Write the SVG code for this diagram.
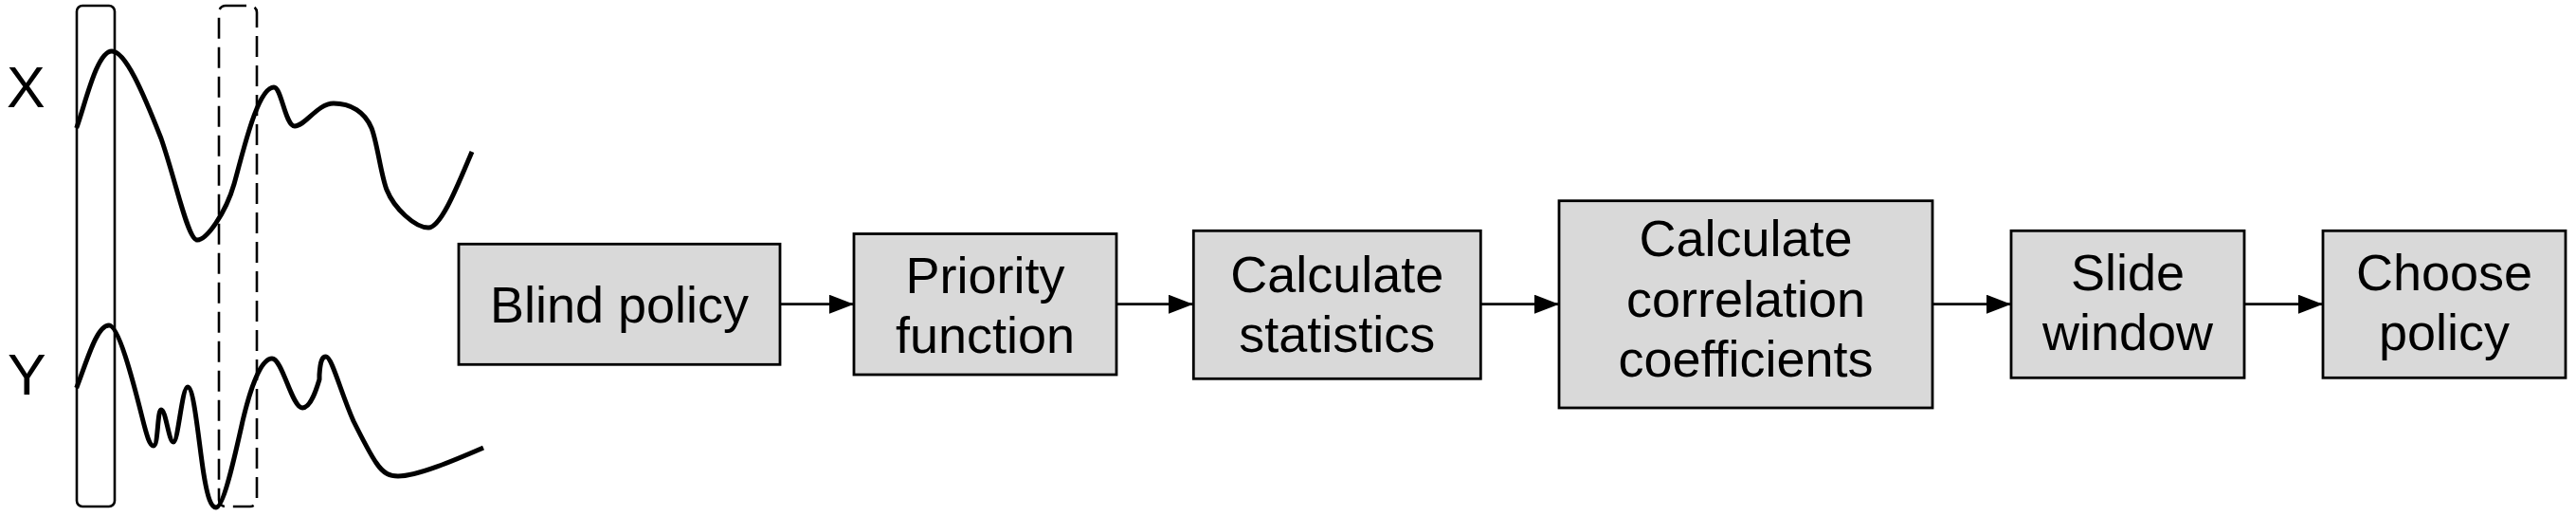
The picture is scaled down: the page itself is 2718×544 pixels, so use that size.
<svg xmlns="http://www.w3.org/2000/svg" width="2718" height="544" viewBox="0 0 2718 544">
<defs>
<style>
.box{fill:#d9d9d9;stroke:#000;stroke-width:2.8}
.lbl{font-family:"Liberation Sans",Arial,sans-serif;font-size:54px;fill:#000;text-anchor:middle}
.axis{font-family:"Liberation Sans",Arial,sans-serif;font-size:61px;fill:#000}
.wave{fill:none;stroke:#000;stroke-width:5;stroke-linejoin:round;stroke-linecap:butt}
.win{fill:none;stroke:#000;stroke-width:2.6}
.edge{stroke:#000;stroke-width:2.8;fill:none;marker-end:url(#ah)}
</style>
<marker id="ah" viewBox="0 0 26 20" refX="26" refY="10" markerWidth="26" markerHeight="20" markerUnits="userSpaceOnUse" orient="auto">
<path d="M0,0 L26,10 L0,20 Z" fill="#000"/>
</marker>
</defs>
<rect width="2718" height="544" fill="#fff"/>

<g id="signals">
<text class="axis" x="7" y="113">X</text>
<text class="axis" x="8" y="416">Y</text>
<rect id="window-current" class="win" x="81" y="6" width="40" height="528" rx="6"/>
<rect id="window-next" class="win" x="231" y="6" width="40" height="528" rx="7" stroke-dasharray="22 9"/>
<path id="signal-x" class="wave" d="M80.7,135 C90,110 102,54 118,54 C132,54 150,95 170,146 C186,192 198,253 208,253 C218,253 238,225 247,194 C257,158 272,92 289,92 C297,92 301,133 311,133 C322,133 335,109 352,109 C370,109 385,118 392,135 C398,150 402,185 408,200 C416,220 438,240 452,240 C466,240 485,190 498,160"/>
<path id="signal-y" class="wave" d="M80.7,409 C92,380 102,343 115,343 C125,343 140,400 150,440 C155,460 158,470 162,470 C167,470 166,432 170,432 C175,432 178,466 183,466 C188,466 192,408 198,408 C205,408 210,470 215,500 C219,525 223,535 228,535 C236,535 248,480 256,444 C264,410 275,378 287,378 C298,378 308,430 319,430 C328,430 334,410 337,400 L337,395 C338,380 340,376 344,376 C350,376 360,415 373,444 C382,462 390,478 397,488 C405,500 412,502 420,502 C440,502 480,485 510,472"/>
</g>

<g id="connectors">
<line class="edge" x1="823" y1="320.7" x2="901" y2="320.7"/>
<line class="edge" x1="1178" y1="320.7" x2="1259" y2="320.7"/>
<line class="edge" x1="1562" y1="320.7" x2="1645" y2="320.7"/>
<line class="edge" x1="2039" y1="320.7" x2="2122" y2="320.7"/>
<line class="edge" x1="2368" y1="320.7" x2="2451" y2="320.7"/>
</g>

<g id="blind-policy">
<rect class="box" x="484" y="257.3" width="339" height="127"/>
<text class="lbl" x="653.5" y="340">Blind policy</text>
</g>
<g id="priority-function">
<rect class="box" x="901" y="246.5" width="277" height="148.5"/>
<text class="lbl" x="1039.5" y="309">Priority</text>
<text class="lbl" x="1039.5" y="372">function</text>
</g>
<g id="calculate-statistics">
<rect class="box" x="1259.3" y="243.3" width="303" height="156"/>
<text class="lbl" x="1410.8" y="308">Calculate</text>
<text class="lbl" x="1410.8" y="371">statistics</text>
</g>
<g id="calculate-correlation">
<rect class="box" x="1645" y="211.7" width="394" height="218.3"/>
<text class="lbl" x="1842" y="270">Calculate</text>
<text class="lbl" x="1842" y="334">correlation</text>
<text class="lbl" x="1842" y="397">coefficients</text>
</g>
<g id="slide-window">
<rect class="box" x="2122" y="243.3" width="246" height="155"/>
<text class="lbl" x="2245" y="306">Slide</text>
<text class="lbl" x="2245" y="369">window</text>
</g>
<g id="choose-policy">
<rect class="box" x="2451" y="243.3" width="256" height="155"/>
<text class="lbl" x="2579" y="306">Choose</text>
<text class="lbl" x="2579" y="369">policy</text>
</g>
</svg>
